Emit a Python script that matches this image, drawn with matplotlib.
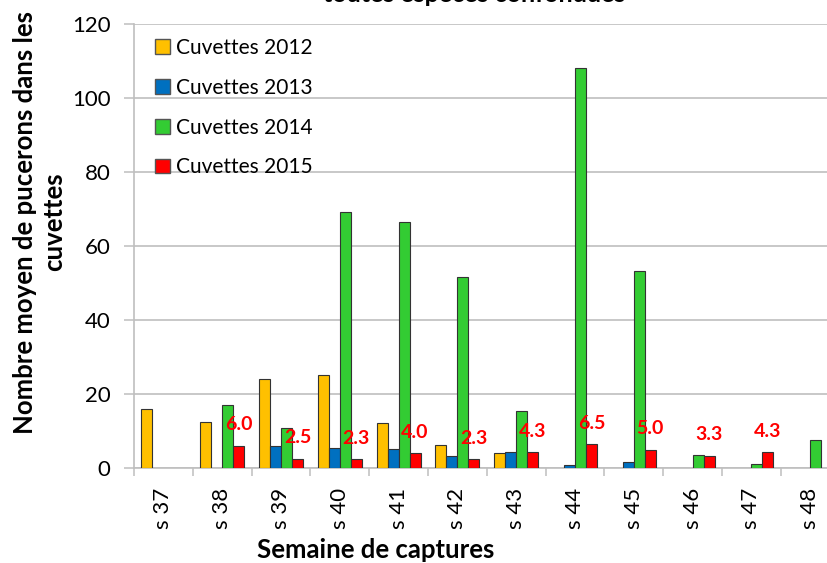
import numpy as np
import matplotlib
matplotlib.use("Agg")
from matplotlib import pyplot as plt
from matplotlib.patches import Patch
from matplotlib.ticker import FixedLocator

plt.rcParams["font.family"] = ["Lato", "DejaVu Sans"]

# %% data
weeks = ["s 37", "s 38", "s 39", "s 40", "s 41", "s 42",
         "s 43", "s 44", "s 45", "s 46", "s 47", "s 48"]
cuv_2012 = [16.0, 12.3, 24.1, 25.1, 12.1, 6.3, 4.1, 0, 0, 0, 0, 0]
cuv_2013 = [0, 0, 6.0, 5.3, 5.1, 3.2, 4.4, 0.7, 1.7, 0, 0, 0]
cuv_2014 = [0, 16.9, 10.7, 69.3, 66.4, 51.6, 15.3, 108.0, 53.3, 3.5, 1.2, 7.6]
cuv_2015 = [0, 6.0, 2.5, 2.3, 4.0, 2.3, 4.3, 6.5, 5.0, 3.3, 4.3, 0]
labels_2015 = ["", "6.0", "2.5", "2.3", "4.0", "2.3", "4.3", "6.5", "5.0", "3.3", "4.3", ""]

series = {
    "Cuvettes 2012": (cuv_2012, "#FFC000"),
    "Cuvettes 2013": (cuv_2013, "#0070C0"),
    "Cuvettes 2014": (cuv_2014, "#33CC33"),
    "Cuvettes 2015": (cuv_2015, "#FF0000"),
}

# %% plot
fig = plt.figure(figsize=(8.27, 5.63), dpi=100)
ax = fig.add_axes([134 / 827, 95 / 563, 705.6 / 827, 444 / 563])

x = np.arange(len(weeks))
w = 0.187
grey = "#BFBFBF"

for i, (name, (vals, col)) in enumerate(series.items()):
    vals = np.array(vals)
    xs = x + (i - 1.5) * w
    keep = vals > 0
    ax.bar(xs[keep], vals[keep], width=w, color=col,
           edgecolor="#333333", linewidth=0.8, zorder=3)

# data labels for 2015
for xi, v, lab in zip(x, cuv_2015, labels_2015):
    if lab:
        ax.annotate(lab, (xi + 1.5 * w, v), xytext=(0, 15),
                    textcoords="offset points", ha="center", va="center",
                    color="red", fontsize=14, fontweight="bold", zorder=4)

ax.set_xlim(-0.5, len(weeks) - 0.5)
ax.set_ylim(0, 120)
ax.set_yticks(np.arange(0, 121, 20))
ax.tick_params(axis="y", labelsize=16, length=7, width=1.1, color=grey, pad=10)
ax.yaxis.grid(True, color=grey, linewidth=1.2, zorder=0)
ax.set_axisbelow(True)

ax.set_xticks(x)
ax.set_xticklabels(weeks, rotation=90, fontsize=16)
ax.tick_params(axis="x", which="major", length=0, pad=14)
ax.xaxis.set_minor_locator(FixedLocator(np.arange(-0.5, len(weeks), 1)))
ax.tick_params(axis="x", which="minor", length=6, width=1.1, color=grey)

for s in ["top", "right"]:
    ax.spines[s].set_visible(False)
for s in ["left", "bottom"]:
    ax.spines[s].set_color(grey)
    ax.spines[s].set_linewidth(1.2)

fig.text(376 / 827, 1 - 550 / 563, "Semaine de captures", ha="center",
         va="center", fontsize=18.5, fontweight="bold")
fig.text(40 / 827, 1 - 222 / 563, "Nombre moyen de pucerons dans les\ncuvettes",
         rotation=90, ha="center", va="center", multialignment="center",
         fontsize=18.5, fontweight="bold", linespacing=1.25)
fig.text(474 / 827, 1 - 2 / 563, "toutes espèces confondues", ha="center",
         va="baseline", fontsize=18, fontweight="bold")

handles = [Patch(facecolor=col, edgecolor="#555555", label=name)
           for name, (vals, col) in series.items()]
ax.legend(handles=handles, loc="upper left", frameon=False, fontsize=15,
          bbox_to_anchor=(155 / 827, 1 - 38 / 563), bbox_transform=fig.transFigure,
          borderpad=0, borderaxespad=0, handlelength=0.7, handleheight=0.7,
          handletextpad=0.3, labelspacing=0.95)

plt.savefig("out.png", dpi=100)
